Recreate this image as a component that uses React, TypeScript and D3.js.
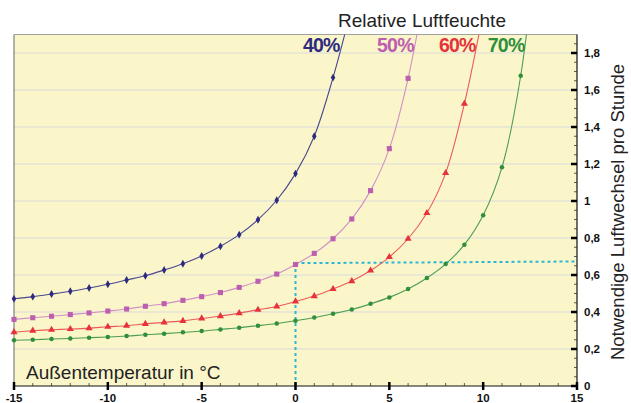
import React from 'react';
import * as d3 from 'd3';

// Außentemperatur in °C (one marker per degree)
const temps = [-15, -14, -13, -12, -11, -10, -9, -8, -7, -6, -5, -4, -3, -2, -1, 0, 1, 2, 3, 4, 5, 6, 7, 8, 9, 10, 11, 12];

// Notwendiger Luftwechsel pro Stunde
const rh40 = [0.472, 0.483, 0.497, 0.512, 0.53, 0.55, 0.573, 0.596, 0.627, 0.661, 0.703, 0.755, 0.818, 0.899, 1.004, 1.148, 1.35, 1.667];
const rh50 = [0.36, 0.369, 0.377, 0.386, 0.395, 0.405, 0.416, 0.431, 0.445, 0.463, 0.483, 0.505, 0.533, 0.566, 0.605, 0.657, 0.717, 0.796, 0.903, 1.056, 1.283, 1.663];
const rh60 = [0.291, 0.299, 0.304, 0.308, 0.313, 0.32, 0.326, 0.336, 0.344, 0.352, 0.365, 0.378, 0.394, 0.412, 0.43, 0.457, 0.486, 0.524, 0.567, 0.624, 0.697, 0.796, 0.935, 1.151, 1.526];
const rh70 = [0.247, 0.25, 0.254, 0.257, 0.261, 0.265, 0.27, 0.277, 0.283, 0.29, 0.297, 0.306, 0.315, 0.326, 0.338, 0.353, 0.37, 0.391, 0.414, 0.444, 0.479, 0.524, 0.584, 0.659, 0.764, 0.923, 1.182, 1.677];

// where each line leaves the top of the chart (no marker there)
const lineEnds: [number, number][] = [[3, 2.05], [7, 2.2], [10, 2.02], [13, 2.55]];

const seriesLabels = ['40%', '50%', '60%', '70%'];
const seriesColors = ['#2d2a80', '#bb5fae', '#e6323a', '#2f8f3c'];
const lineColors = ['#4a4790', '#d08fc8', '#ec5a5f', '#4d9c55'];
const markerTypes = [d3.symbolDiamond, d3.symbolSquare, d3.symbolTriangle, d3.symbolCircle];
const markerSizes = [18, 26, 22, 16];
const labelEndX = [2.35, 6.3, 9.6, 12.2];

const xTicks = [-15, -10, -5, 0, 5, 10, 15];
const yTicks = [0, 0.2, 0.4, 0.6, 0.8, 1, 1.2, 1.4, 1.6, 1.8];

// dotted reading line: 50% at 0 °C
const readX = 0;
const readY = [0.657, 0.664, 0.673];

const W = 631;
const H = 403;
const FONT = '"Liberation Sans", Arial, sans-serif';

const App: React.FC = () => {
  const left = 14;
  const right = 577;
  const top = 34.5;
  const bottom = 386;

  const x = d3.scaleLinear().domain([-15, 15]).range([left, right]);
  const y = d3.scaleLinear().domain([0, 1.9]).range([bottom, top]);

  const allSeries = [rh40, rh50, rh60, rh70];

  const line = d3
    .line<[number, number]>()
    .x(d => x(d[0]))
    .y(d => y(d[1]))
    .curve(d3.curveCatmullRom.alpha(0.5));

  const fmt = (v: number) => (v === 0 ? '0' : String(v).replace('.', ','));
  const minorY = d3.range(0, 1.9, 0.05);
  const minorX = d3.range(-15, 16, 1);

  return (
    <svg width={W} height={H} style={{ position: 'absolute', left: 0, top: 0, background: '#fff' }}>
      <defs>
        <clipPath id="plot">
          <rect x={left} y={top} width={right - left} height={bottom - top} />
        </clipPath>
      </defs>
      <rect x={left} y={top} width={right - left} height={bottom - top} fill="#faf6ca" />
      {yTicks.slice(1).map(t => (
        <line key={t} x1={left} x2={right} y1={y(t)} y2={y(t)} stroke="#d9d9d9" strokeWidth={1.2} />
      ))}
      <line x1={left} x2={right} y1={top} y2={top} stroke="#a0a0a0" strokeWidth={1} />
      <line x1={left} x2={left} y1={top} y2={bottom} stroke="#808080" strokeWidth={1.2} />

      {/* dotted reading line */}
      <g stroke="#2bb6d3" strokeWidth={2} strokeDasharray="3,3" fill="none">
        <line x1={x(readX)} x2={x(readX)} y1={y(0)} y2={y(readY[0])} />
        <polyline points={`${x(readX)},${y(readY[1])} ${right},${y(readY[2])}`} />
      </g>

      <g clipPath="url(#plot)">
        {allSeries.map((vals, i) => {
          const pts: [number, number][] = vals.map((v, j) => [temps[j], v]);
          return (
            <path
              key={i}
              d={line([...pts, lineEnds[i]]) || ''}
              fill="none"
              stroke={lineColors[i]}
              strokeWidth={1.1}
            />
          );
        })}
      </g>
      {allSeries.map((vals, i) => {
        const sym = d3.symbol().type(markerTypes[i]).size(markerSizes[i]);
        return (
          <g key={i} fill={seriesColors[i]}>
            {vals.map((v, j) => (
              <path key={j} d={sym() || ''} transform={`translate(${x(temps[j])},${y(v)})`} />
            ))}
          </g>
        );
      })}

      {/* series labels */}
      {seriesLabels.map((s, i) => (
        <text
          key={s}
          x={x(labelEndX[i])}
          y={52}
          textAnchor="end"
          fontFamily={FONT}
          fontSize={19.5}
          fontWeight="bold"
          fill={seriesColors[i]}
          letterSpacing={-0.8}
        >
          {s}
        </text>
      ))}
      <text x={422} y={27} textAnchor="middle" fontFamily={FONT} fontSize={19} fill="#222">
        Relative Luftfeuchte
      </text>

      {/* bottom axis */}
      <line x1={left} x2={right} y1={bottom} y2={bottom} stroke="#111" strokeWidth={1.2} />
      {minorX.map(t => (
        <line key={t} x1={x(t)} x2={x(t)} y1={bottom} y2={bottom - 3} stroke="#333" strokeWidth={0.8} />
      ))}
      {xTicks.map(t => (
        <g key={t}>
          <line x1={x(t)} x2={x(t)} y1={bottom - 4} y2={bottom + 4} stroke="#000" strokeWidth={2.5} />
          <text x={x(t)} y={bottom + 16} textAnchor="middle" fontFamily={FONT} fontSize={11.5} fontWeight="bold" fill="#111">
            {t}
          </text>
        </g>
      ))}
      <text x={26} y={379} fontFamily={FONT} fontSize={19} fill="#222">
        Außentemperatur in °C
      </text>

      {/* right axis */}
      <line x1={right} x2={right} y1={top} y2={bottom} stroke="#111" strokeWidth={1.2} />
      {minorY.map(t => (
        <line key={t} x1={right - 3} x2={right} y1={y(t)} y2={y(t)} stroke="#333" strokeWidth={0.8} />
      ))}
      {yTicks.map(t => (
        <g key={t}>
          <line x1={right - 6} x2={right} y1={y(t)} y2={y(t)} stroke="#000" strokeWidth={2.5} />
          <text x={right + 7} y={y(t) + 4} fontFamily={FONT} fontSize={11.5} fontWeight="bold" fill="#111">
            {fmt(t)}
          </text>
        </g>
      ))}
      <text
        transform={`translate(624,212) rotate(-90)`}
        textAnchor="middle"
        fontFamily={FONT}
        fontSize={18.5}
        fill="#222"
      >
        Notwendige Luftwechsel pro Stunde
      </text>
    </svg>
  );
};

export default App;
